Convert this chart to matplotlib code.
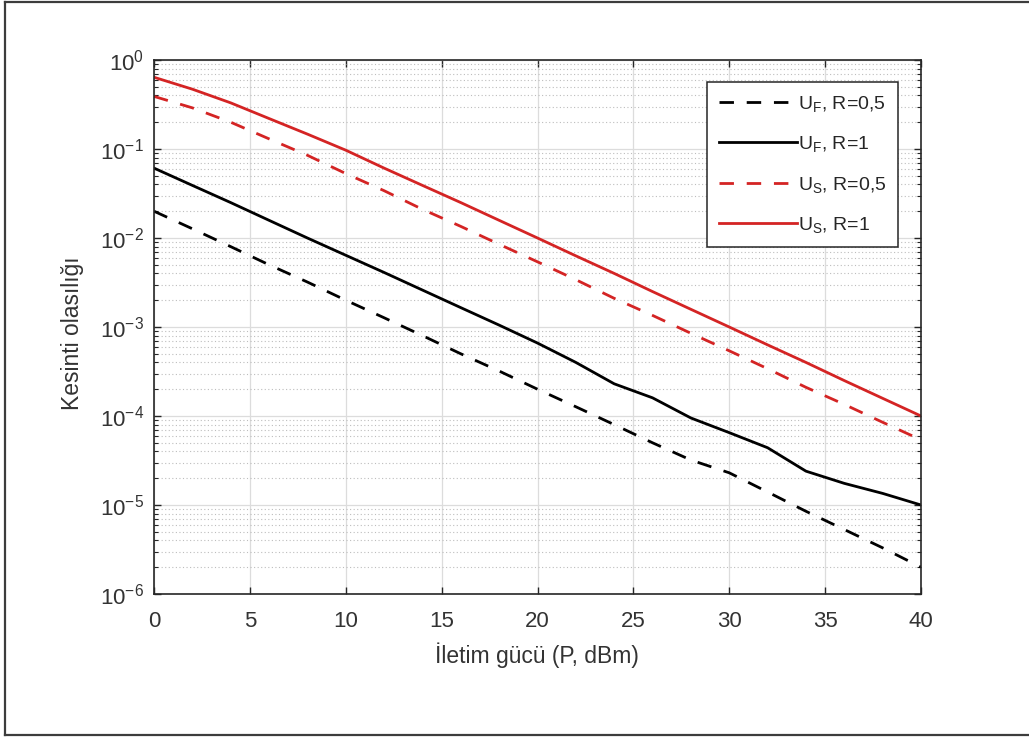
import matplotlib
matplotlib.use("Agg")
import matplotlib.pyplot as plt
from matplotlib.lines import Line2D
from matplotlib.ticker import LogLocator, NullFormatter

plt.rcParams['font.family'] = ['Liberation Sans', 'DejaVu Sans']
plt.rcParams['mathtext.fontset'] = 'custom'
plt.rcParams['mathtext.rm'] = 'Liberation Sans'
plt.rcParams['mathtext.it'] = 'Liberation Sans:italic'
plt.rcParams['mathtext.default'] = 'regular'
plt.rcParams['axes.unicode_minus'] = False

# Transmit power (dBm)
power_dbm = [0, 2, 4, 6, 8, 10, 12, 14, 16, 18, 20, 22, 24, 26, 28, 30, 32, 34, 36, 38, 40]

# Outage probability for each user / rate
uf_r05 = [0.020, 0.0127, 0.0080, 0.0050, 0.0032, 0.0020, 0.00127, 8.0e-4, 5.0e-4, 3.2e-4,
          2.0e-4, 1.27e-4, 8.0e-5, 5.0e-5, 3.2e-5, 2.3e-5, 1.4e-5, 8.5e-6, 5.3e-6, 3.3e-6, 2.0e-6]
uf_r1 = [0.061, 0.039, 0.025, 0.0158, 0.0100, 0.0064, 0.0041, 0.0026, 0.00165, 0.00105,
         6.6e-4, 4.0e-4, 2.3e-4, 1.6e-4, 9.5e-5, 6.5e-5, 4.4e-5, 2.4e-5, 1.75e-5, 1.35e-5, 1.0e-5]
us_r05 = [0.39, 0.29, 0.20, 0.13, 0.085, 0.053, 0.034, 0.021, 0.0135, 0.0085,
          0.0054, 0.0034, 0.0021, 0.00135, 8.5e-4, 5.4e-4, 3.4e-4, 2.1e-4, 1.35e-4, 8.5e-5, 5.4e-5]
us_r1 = [0.64, 0.47, 0.33, 0.22, 0.147, 0.097, 0.061, 0.039, 0.025, 0.0158,
         0.0100, 0.0063, 0.0040, 0.0025, 0.00158, 0.00100, 6.3e-4, 4.0e-4, 2.5e-4, 1.58e-4, 1.0e-4]

labels = [r'U$_F$, R=0,5', r'U$_F$, R=1', r'U$_S$, R=0,5', r'U$_S$, R=1']
x_ticks = [0, 5, 10, 15, 20, 25, 30, 35, 40]

W, H = 1029, 738
fig = plt.figure(figsize=(W / 100, H / 100), dpi=100)
fig.patch.set_facecolor('white')

left, right, top, bottom = 154, 921, 60, 594
ax = fig.add_axes([left / W, 1 - bottom / H, (right - left) / W, (bottom - top) / H])

red = '#d42424'
dash = (5.2, 4.6)
ax.semilogy(power_dbm, uf_r05, color='black', lw=2.0, dashes=dash, label=labels[0])
ax.semilogy(power_dbm, uf_r1, color='black', lw=2.0, label=labels[1])
ax.semilogy(power_dbm, us_r05, color=red, lw=2.0, dashes=dash, label=labels[2])
ax.semilogy(power_dbm, us_r1, color=red, lw=2.0, label=labels[3])

ax.set_xlim(0, 40)
ax.set_ylim(1e-6, 1)
ax.set_xticks(x_ticks)
ax.yaxis.set_major_locator(LogLocator(base=10, numticks=10))
ax.yaxis.set_minor_locator(LogLocator(base=10, subs=range(2, 10), numticks=20))
ax.yaxis.set_minor_formatter(NullFormatter())

axis_col = '#262626'
for s in ax.spines.values():
    s.set_color(axis_col)
    s.set_linewidth(1.2)

ax.tick_params(which='both', direction='in', top=True, right=True, colors=axis_col,
               labelcolor='#333333')
ax.tick_params(which='major', length=5, width=1.0, labelsize=16)
ax.tick_params(axis='x', which='major', pad=12)
ax.tick_params(axis='y', which='major', pad=7)
ax.tick_params(which='minor', length=3, width=0.8)

ax.grid(True, which='major', color='#dcdcdc', lw=0.9, ls='-')
ax.grid(True, which='minor', axis='y', color='#bdbdbd', lw=0.8, ls=(0, (1, 2.2)))
ax.set_axisbelow(True)

leg = ax.legend(loc='upper right', bbox_to_anchor=(898 / W, 1 - 82 / H),
                bbox_transform=fig.transFigure, borderaxespad=0,
                fontsize=14, handlelength=4.0, handletextpad=0.05,
                labelspacing=1.05, borderpad=0.6, fancybox=False,
                framealpha=1, edgecolor=axis_col)
leg.get_frame().set_linewidth(1.1)
for t in leg.get_texts():
    t.set_color('#262626')

fig.text(537 / W, 1 - 655 / H, 'İletim gücü (P, dBm)', ha='center', va='center',
         fontsize=16.5, color='#333333')
fig.text(72 / W, 1 - 333 / H, 'Kesinti olasılığı', ha='center', va='center',
         rotation=90, fontsize=16.5, color='#333333')

# Outer frame around the figure
frame_col = '#3c3c3c'
x0, x1 = 5 / W, 1.01
y0, y1 = 1 - 735 / H, 1 - 1.5 / H
for xs, ys in [((x0, x0), (y0, y1)), ((x0, x1), (y1, y1)), ((x0, x1), (y0, y0))]:
    fig.add_artist(Line2D(xs, ys, transform=fig.transFigure, color=frame_col, lw=1.6))

fig.savefig('out.png', dpi=100, facecolor='white')
